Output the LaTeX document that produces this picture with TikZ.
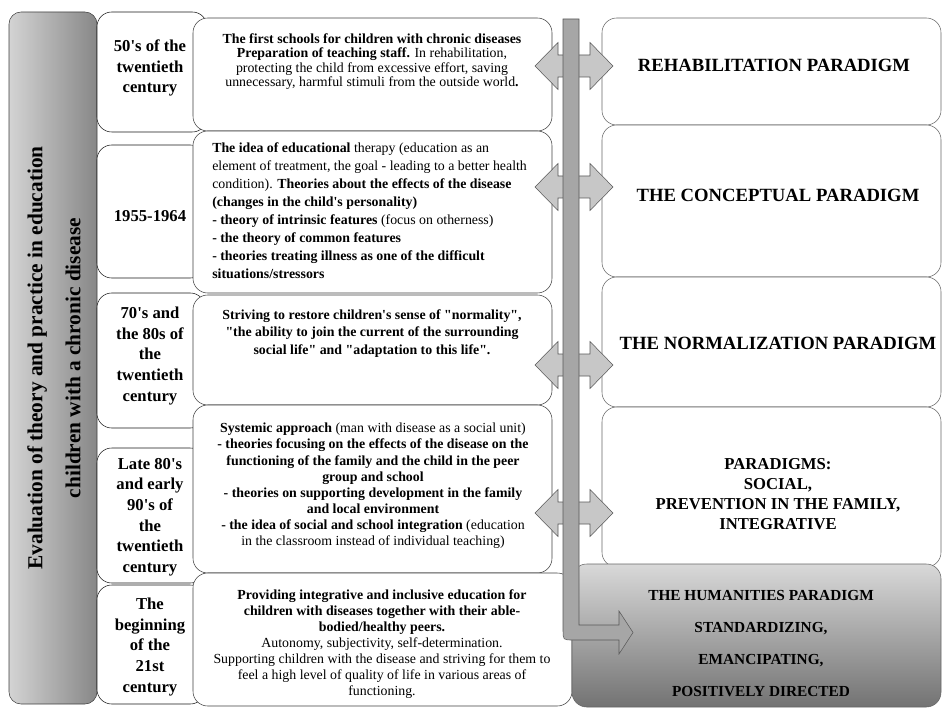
\documentclass[tikz,border=0pt]{standalone}
\usepackage{fontspec}
\setmainfont{Liberation Serif}[Ligatures=TeXOff]
\usetikzlibrary{positioning}
\usetikzlibrary{fit}
\tikzset{
    sidebox/.style={draw=black!75, rounded corners=9pt, inner sep=0pt, left color=black!17, right color=black!47},
    datebox/.style={draw=black!90, fill=white, rounded corners=11pt, inner sep=0pt},
    infobox/.style={draw=black!75, fill=white, rounded corners=11pt, inner sep=0pt},
    parbox/.style={draw=black!60, fill=white, rounded corners=11pt, inner sep=0pt},
    humbox/.style={draw=black!60, rounded corners=11pt, inner sep=0pt, top color=black!15, bottom color=black!55},
    datetext/.style={font=\fontsize{12.5}{15.4}\selectfont\bfseries, align=center, inner sep=0pt},
    infotext/.style={font=\fontsize{10.4}{12.2}\selectfont, align=center, inner sep=0pt},
    partext/.style={font=\fontsize{14}{17}\selectfont\bfseries, align=center, inner sep=0pt}
}
\tikzset{
    twoway/.pic={
		\filldraw[draw=black!65, fill=black!22] (-39,0) -- (-16,-23.5) -- (-16,-11) -- (16,-11) -- (16,-23.5) -- (39,0) -- (16,23.5) -- (16,11) -- (-16,11) -- (-16,23.5) -- cycle;
	}
}
\begin{document}
\begin{tikzpicture}[x=0.75pt, y=-0.75pt]
	\useasboundingbox (0,0) rectangle (942,709);
	% left column
	\node[sidebox, fit={(9,12) (97,704)}] (side) {};
	\node[rotate=90, align=center, inner sep=0pt, font=\fontsize{16}{28.5}\selectfont\bfseries] (sidetext) at (54,358) {Evaluation of theory and practice in education\\children with a chronic disease};
	% periods
	\node[datebox, fit={(97,12) (207,132)}] (d1) {};
	\node[datebox, fit={(97,145) (205,278)}] (d2) {};
	\node[datebox, fit={(97,293) (205,428)}] (d3) {};
	\node[datebox, fit={(97,448) (205,583)}] (d4) {};
	\node[datebox, fit={(97,585) (205,704)}] (d5) {};
	\node[datetext] (dt1) at (150,68) {50's of the\\twentieth\\century};
	\node[datetext] (dt2) at (150,216) {1955-1964};
	\node[datetext] (dt3) at (150,356) {70's and\\the 80s of\\the\\twentieth\\century};
	\node[datetext] (dt4) at (150,517) {Late 80's\\and early\\90's of\\the\\twentieth\\century};
	\node[datetext] (dt5) at (150,647) {The\\beginning\\of the\\21st\\century};
	% descriptions
	\node[infobox, fit={(193,18) (552,131)}] (i1) {};
	\node[infobox, fit={(193,131) (552,293)}] (i2) {};
	\node[infobox, fit={(193,295) (552,405)}] (i3) {};
	\node[infobox, fit={(193,405) (552,573)}] (i4) {};
	\node[infobox, fit={(193,573) (572,706)}] (i5) {};
	\node[infotext, font=\fontsize{10.4}{10.9}\selectfont] (it1) at (372,61.5) {\textbf{The first schools for children with chronic diseases}\\\textbf{Preparation of teaching staff.} In rehabilitation,\\protecting the child from excessive effort, saving\\unnecessary, harmful stimuli from the outside world\textbf{.}};
	\node[infotext, align=left, anchor=west, font=\fontsize{10.4}{13.5}\selectfont] (it2) at (212,211) {\textbf{The idea of educational} therapy (education as an\\element of treatment, the goal - leading to a better health\\condition). \textbf{Theories about the effects of the disease}\\\textbf{(changes in the child's personality)}\\\textbf{- theory of intrinsic features} (focus on otherness)\\\textbf{- the theory of common features}\\\textbf{- theories treating illness as one of the difficult}\\\textbf{situations/stressors}};
	\node[infotext, font=\fontsize{10.4}{13.1}\selectfont\bfseries] (it3) at (372,333.5) {Striving to restore children's sense of "normality",\\"the ability to join the current of the surrounding\\social life" and "adaptation to this life".};
	\node[infotext, font=\fontsize{10.4}{12.1}\selectfont] (it4) at (373,486) {\textbf{Systemic approach} (man with disease as a social unit)\\\textbf{- theories focusing on the effects of the disease on the}\\\textbf{functioning of the family and the child in the peer}\\\textbf{group and school}\\\textbf{- theories on supporting development in the family}\\\textbf{and local environment}\\\textbf{- the idea of social and school integration} (education\\in the classroom instead of individual teaching)};
	\node[infotext, font=\fontsize{10.4}{12}\selectfont] (it5) at (382,644) {\textbf{Providing integrative and inclusive education for}\\\textbf{children with diseases together with their able-}\\\textbf{bodied/healthy peers.}\\Autonomy, subjectivity, self-determination.\\Supporting children with the disease and striving for them to\\feel a high level of quality of life in various areas of\\functioning.};
	% paradigms
	\node[parbox, fit={(602,18) (941,125)}] (p1) {};
	\node[parbox, fit={(602,125) (941,277)}] (p2) {};
	\node[parbox, fit={(602,277) (941,407)}] (p3) {};
	\node[parbox, fit={(602,407) (941,567)}] (p4) {};
	\node[humbox, fit={(572,564) (941,707)}] (p5) {};
	\node[partext] (pt1) at (774,65) {REHABILITATION PARADIGM};
	\node[partext] (pt2) at (778,195) {THE CONCEPTUAL PARADIGM};
	\node[partext] (pt3) at (778,343) {THE NORMALIZATION PARADIGM};
	\node[partext, font=\fontsize{12.5}{15}\selectfont\bfseries] (pt4) at (778,494) {PARADIGMS:\\SOCIAL,\\PREVENTION IN THE FAMILY,\\INTEGRATIVE};
	\node[partext, font=\fontsize{11.5}{24}\selectfont\bfseries] (pt5) at (761,644) {THE HUMANITIES PARADIGM\\STANDARDIZING,\\EMANCIPATING,\\POSITIVELY DIRECTED};
	% arrows and time bar
	\pic at (574,66) {twoway};
	\pic at (574,187) {twoway};
	\pic at (574,365) {twoway};
	\pic at (574,513) {twoway};
	\filldraw[draw=black!65, fill=black!35] (563,19) -- (579,19) -- (579,625) -- (619,625) -- (619,611) -- (633,632.5) -- (619,654) -- (619,640) -- (573,640) .. controls (563,640) .. (563,630) -- cycle;
\end{tikzpicture}
\end{document}
